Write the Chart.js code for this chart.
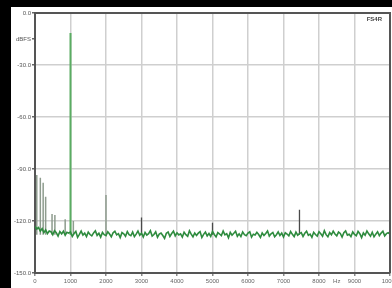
<!DOCTYPE html>
<html>
<head>
<meta charset="utf-8">
<script src="https://cdn.jsdelivr.net/npm/chart.js@4"></script>
<style>
  html, body { margin: 0; padding: 0; background: #000; overflow: hidden; }
  #panel { position: absolute; left: 11px; top: 7px; width: 381px; height: 281px; background: #fff; }
</style>
</head>
<body>
<div id="panel"><canvas id="fftChart"></canvas></div>
<script>
// noise floor, one value per 50 Hz bin from 0 to 10000 Hz
const binHz = 50;
const noiseDb = [
  -123.0, -124.6, -123.8, -125.9, -124.4, -126.7, -125.1, -127.3, -125.8, -126.2,
  -127.9, -125.6, -126.8, -128.7, -126.1, -127.4, -125.9, -128.2, -126.5, -127.0,
  -126.3, -128.9, -127.2, -126.0, -129.4, -127.7, -125.8, -128.1, -127.0, -129.0,
  -126.4, -127.8, -128.6, -126.9, -125.7, -128.3, -127.1, -129.3, -126.6, -127.9,
  -128.4, -126.2, -127.5, -129.1, -126.8, -125.9, -128.0, -127.3, -129.6, -126.7,
  -127.4, -128.8, -126.1, -127.9, -128.5, -126.4, -129.0, -127.6, -125.8, -128.2,
  -127.0, -129.2, -126.6, -128.1, -127.3, -125.6, -128.7, -127.8, -126.2, -129.4,
  -127.5, -126.9, -128.4, -130.0, -127.1, -126.3, -128.9, -127.2, -125.9, -128.6,
  -126.8, -128.0, -127.4, -129.3, -126.5, -127.9, -128.8, -125.7, -127.6, -129.1,
  -126.9, -128.3, -127.0, -126.1, -129.5, -127.7, -126.4, -128.6, -127.2, -128.9,
  -126.0, -127.8, -129.2, -126.7, -127.5, -128.4, -125.8, -128.0, -127.3, -129.7,
  -126.6, -128.2, -127.1, -125.9, -128.8, -127.4, -129.0, -126.3, -127.9, -128.5,
  -127.0, -126.2, -129.3, -127.6, -128.1, -126.5, -127.8, -129.5, -126.9, -128.3,
  -127.2, -125.8, -128.7, -127.4, -126.6, -129.1, -127.9, -126.3, -128.4, -127.0,
  -129.2, -126.8, -127.5, -128.6, -126.1, -127.7, -129.0, -126.4, -128.2, -127.3,
  -126.7, -128.9, -127.1, -125.9, -128.3, -127.6, -129.4, -126.5, -127.8, -128.7,
  -126.2, -127.4, -128.8, -125.6, -127.9, -129.1, -126.7, -128.0, -125.9, -127.5,
  -128.6, -126.4, -127.2, -129.3, -126.8, -125.7, -128.1, -127.6, -129.0, -126.3,
  -127.7, -128.5, -126.0, -127.3, -129.6, -126.9, -128.2, -125.8, -127.4, -128.8,
  -126.5, -129.1, -127.6, -126.2, -128.4, -127.0, -125.9, -128.6, -127.3, -126.8,
  -127.5
];

const floorDb = -128;

// 1 kHz test tone
const toneHz = [1000];
const toneDb = [-11.5];

// hum and harmonic spikes (grey trace)
const greySpikeHz = [50, 150, 230, 300, 480, 560, 850, 1080, 2000];
const greySpikeDb = [-93.5, -95, -98, -106, -116, -116.5, -119, -120, -105];

// spikes of the dark trace
const darkSpikeHz = [3000, 5000, 7450];
const darkSpikeDb = [-118, -121, -113.5];

const xTicks = [0, 1000, 2000, 3000, 4000, 5000, 6000, 7000, 8000, 8500, 9000, 10000];
const xLabels = ['0', '1000', '2000', '3000', '4000', '5000', '6000', '7000', '8000', 'Hz', '9000', '10000'];
const yTicks = [-150, -120, -90, -60, -30, -15, 0];
const yLabels = ['-150.0', '-120.0', '-90.0', '-60.0', '-30.0', 'dBFS', '0.0'];

const noisePts = noiseDb.map((db, i) => ({ x: i * binHz, y: db }));

function spikePts(hz, db) {
    const pts = [];
    hz.forEach((h, i) => {
        pts.push({ x: h, y: floorDb }, { x: h, y: db[i] }, { x: h, y: floorDb }, { x: h, y: null });
    });
    return pts;
}

const frame = {
    id: 'frame',
    afterDraw(chart) {
        const { ctx, chartArea: a } = chart;
        ctx.save();
        ctx.strokeStyle = '#555';
        ctx.lineWidth = 2;
        ctx.beginPath();
        ctx.moveTo(a.left, a.top);
        ctx.lineTo(a.right, a.top);
        ctx.lineTo(a.right, a.bottom);
        ctx.stroke();
        ctx.fillStyle = '#444';
        ctx.font = 'bold 6px "Liberation Sans"';
        ctx.textAlign = 'right';
        ctx.textBaseline = 'middle';
        ctx.fillText('FS4R', a.right - 8, a.top + 6);
        ctx.restore();
    }
};

const tickFont = { family: '"Liberation Sans", Arial, sans-serif', size: 6 };

new Chart(document.getElementById('fftChart').getContext('2d'), {
    type: 'line',
    data: {
        datasets: [
            { data: noisePts, borderColor: '#2e8b3e', borderWidth: 1.6 },
            { data: spikePts(toneHz, toneDb), borderColor: '#5aac62', borderWidth: 2 },
            { data: spikePts(greySpikeHz, greySpikeDb), borderColor: '#8e9c8e', borderWidth: 1.5 },
            { data: spikePts(darkSpikeHz, darkSpikeDb), borderColor: '#4a4a4a', borderWidth: 1.3 }
        ]
    },
    options: {
        responsive: true,
        maintainAspectRatio: false,
        animation: false,
        spanGaps: false,
        elements: { point: { radius: 0 }, line: { tension: 0 } },
        layout: { padding: { top: 6, right: 2, left: 0, bottom: 0 } },
        plugins: { legend: { display: false }, tooltip: { enabled: false } },
        scales: {
            x: {
                type: 'linear',
                min: 0,
                max: 10000,
                afterBuildTicks: s => { s.ticks = xTicks.map(v => ({ value: v })); },
                afterFit: s => { s.height = 15; s.paddingLeft = 0; s.paddingRight = 0; },
                ticks: {
                    callback: (v, i) => xLabels[i],
                    font: tickFont,
                    color: '#666',
                    maxRotation: 0,
                    autoSkip: false,
                    padding: 2
                },
                grid: {
                    color: c => (c.tick && c.tick.value === 8500) ? 'transparent' : '#cfcfcf',
                    tickColor: c => (c.tick && c.tick.value === 8500) ? 'transparent' : '#888',
                    lineWidth: 1.5,
                    tickLength: 3
                },
                border: { color: '#555', width: 2 }
            },
            y: {
                min: -150,
                max: 0,
                afterBuildTicks: s => { s.ticks = yTicks.map(v => ({ value: v })); },
                afterFit: s => { s.width = 24; },
                ticks: {
                    callback: (v, i) => yLabels[i],
                    font: tickFont,
                    color: '#555',
                    autoSkip: false,
                    padding: 1
                },
                grid: {
                    color: c => (c.tick && c.tick.value === -15) ? 'transparent' : '#cfcfcf',
                    tickColor: '#666',
                    lineWidth: 1.5,
                    tickLength: 3
                },
                border: { color: '#555', width: 2 }
            }
        }
    },
    plugins: [frame]
});
</script>
</body>
</html>
